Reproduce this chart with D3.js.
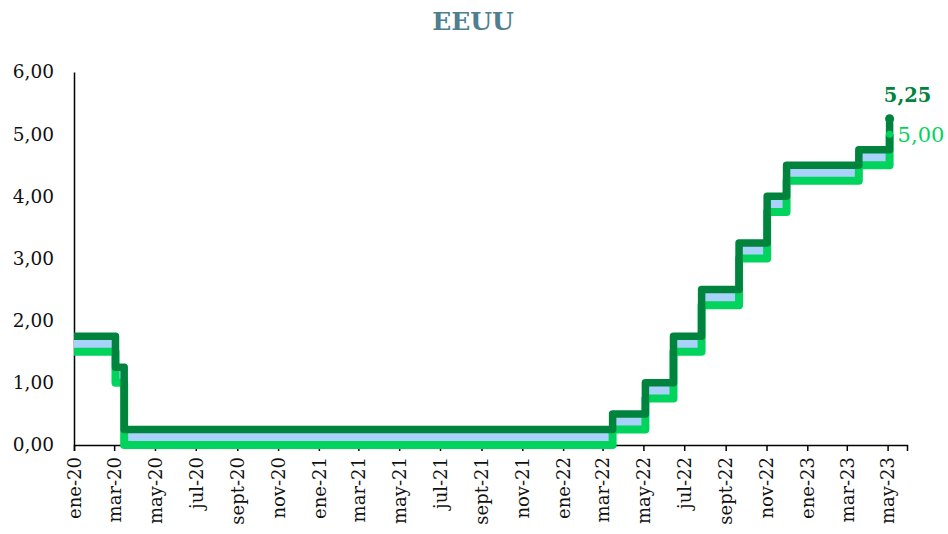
<!DOCTYPE html>
<html lang="es">
<head>
    <meta charset="UTF-8">
    <title>EEUU</title>
    <script src="https://cdn.jsdelivr.net/npm/d3@7"></script>
    <style>
        body { margin: 0; background: #fff; }
        svg { display: block; font-family: 'DejaVu Serif', serif; }
    </style>
</head>
<body>
    <svg width="948" height="534"></svg>
    <script>
        const width = 948;
        const height = 534;
        const margin = {top: 72, left: 74, bottom: 89, right: 41};

        // fechas de cambio del rango objetivo
        const fechas = ['2020-01-01', '2020-03-03', '2020-03-16', '2022-03-16', '2022-05-04', '2022-06-15',
            '2022-07-27', '2022-09-21', '2022-11-02', '2022-12-01', '2023-03-19', '2023-05-04', '2023-05-04'];
        const limiteSuperior = [1.75, 1.25, 0.25, 0.50, 1.00, 1.75, 2.50, 3.25, 4.00, 4.50, 4.75, 5.25, 5.25];
        const limiteInferior = [1.50, 1.00, 0.00, 0.25, 0.75, 1.50, 2.25, 3.00, 3.75, 4.25, 4.50, 5.00, 5.00];
        const yTicks = [0, 1, 2, 3, 4, 5, 6];
        const meses = ['ene', 'feb', 'mar', 'abr', 'may', 'jun', 'jul', 'ago', 'sept', 'oct', 'nov', 'dic'];
        const ejeInicio = '2020-01-01';
        const ejeFin = '2023-05-30';

        const parse = d3.timeParse('%Y-%m-%d');
        const data = fechas.map((f, i) => ({date: parse(f), hi: limiteSuperior[i], lo: limiteInferior[i]}));

        const es = d3.formatLocale({decimal: ',', thousands: '.', grouping: [3], currency: ['', '€']});
        const fmt = es.format('.2f');

        const x = d3.scaleTime()
            .domain([parse(ejeInicio), parse(ejeFin)])
            .range([margin.left, width - margin.right]);

        const y = d3.scaleLinear()
            .domain([0, 6])
            .range([height - margin.bottom, margin.top]);

        const svg = d3.select('svg');

        const dark = '#00833d';
        const light = '#00d45c';
        const fillBlue = '#a9d2fa';

        // titulo
        svg.append('text')
            .attr('x', 473)
            .attr('y', 30)
            .attr('text-anchor', 'middle')
            .attr('font-size', 25)
            .attr('font-weight', 'bold')
            .attr('fill', '#4f7f8f')
            .text('EEUU');

        // eje y
        svg.append('g')
            .attr('transform', `translate(${margin.left}, 0)`)
            .call(d3.axisLeft(y).tickValues(yTicks).tickFormat(fmt).tickSize(0).tickPadding(20))
            .call(g => g.select('.domain').attr('stroke', '#000').attr('stroke-width', 1.5))
            .call(g => g.selectAll('text').attr('font-size', 18.5).attr('fill', '#111').attr('font-family', 'DejaVu Serif'));

        // eje x
        svg.append('g')
            .attr('transform', `translate(0, ${height - margin.bottom})`)
            .call(d3.axisBottom(x)
                .ticks(d3.timeMonth.every(2))
                .tickFormat(d => meses[d.getMonth()] + '-' + String(d.getFullYear()).slice(2))
                .tickSizeOuter(0)
                .tickSize(6))
            .call(g => g.select('.domain').attr('stroke', '#000').attr('stroke-width', 1.5))
            .call(g => g.selectAll('.tick line').attr('stroke', '#000').attr('stroke-width', 1.5))
            .call(g => g.selectAll('text')
                .attr('font-size', 18)
                .attr('font-family', 'DejaVu Serif')
                .attr('fill', '#111')
                .attr('text-anchor', 'end')
                .attr('transform', 'rotate(-90)')
                .attr('x', -12)
                .attr('y', 0)
                .attr('dy', '0.35em'));

        // banda entre limites
        svg.append('path')
            .datum(data)
            .attr('fill', fillBlue)
            .attr('d', d3.area()
                .curve(d3.curveStepAfter)
                .x(d => x(d.date))
                .y0(d => y(d.lo))
                .y1(d => y(d.hi)));

        const line = key => d3.line()
            .curve(d3.curveStepAfter)
            .x(d => x(d.date))
            .y(d => y(d[key]));

        svg.append('path')
            .datum(data)
            .attr('fill', 'none')
            .attr('stroke', light)
            .attr('stroke-width', 8)
            .attr('stroke-linejoin', 'round')
            .attr('d', line('lo'));

        svg.append('path')
            .datum(data)
            .attr('fill', 'none')
            .attr('stroke', dark)
            .attr('stroke-width', 7.5)
            .attr('stroke-linejoin', 'round')
            .attr('d', line('hi'));

        const last = data[data.length - 1];

        svg.append('circle')
            .attr('cx', x(last.date))
            .attr('cy', y(last.lo))
            .attr('r', 3.5)
            .attr('fill', light);
        svg.append('circle')
            .attr('cx', x(last.date))
            .attr('cy', y(last.hi))
            .attr('r', 4.5)
            .attr('fill', dark);

        // etiquetas del ultimo dato
        svg.append('text')
            .attr('x', x(last.date) + 18)
            .attr('y', y(last.hi) - 17)
            .attr('text-anchor', 'middle')
            .attr('font-size', 19.5)
            .attr('font-weight', 'bold')
            .attr('fill', dark)
            .text(fmt(last.hi));
        svg.append('text')
            .attr('x', x(last.date) + 8)
            .attr('y', y(last.lo) + 8)
            .attr('font-size', 21)
            .attr('fill', light)
            .text(fmt(last.lo));
    </script>
</body>
</html>
